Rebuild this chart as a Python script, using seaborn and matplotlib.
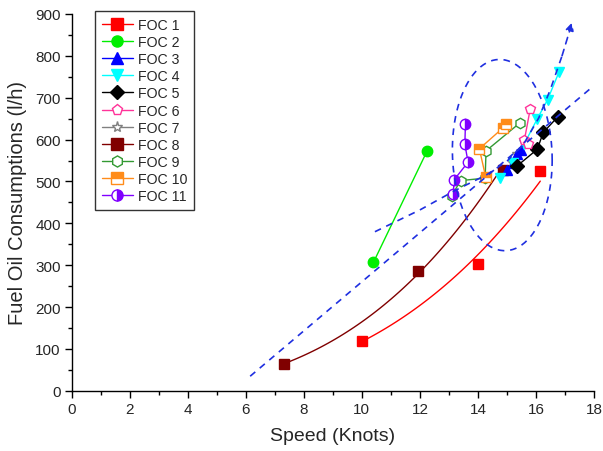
import numpy as np
import matplotlib
matplotlib.use("Agg")
import matplotlib.pyplot as plt
from matplotlib.lines import Line2D
import seaborn as sns

# measured points (speed in knots, fuel oil consumption in l/h)
foc1_x = [10.0, 14.0, 16.15]
foc1_y = [120, 304, 525]
foc2_x = [10.4, 12.25]
foc2_y = [307, 573]
foc3_x = [15.0, 15.2, 15.35, 15.5]
foc3_y = [528, 545, 565, 576]
foc4_x = [14.75, 15.2, 15.6, 16.05, 16.4, 16.8]
foc4_y = [508, 545, 590, 650, 695, 762]
foc5_x = [15.35, 16.05, 16.25, 16.75]
foc5_y = [537, 577, 617, 654]
foc6_x = [15.8, 15.6, 15.72]
foc6_y = [672, 598, 590]
foc7_x = [15.2, 15.35]
foc7_y = [545, 565]
foc8_x = [7.3, 11.95, 14.85]
foc8_y = [64, 287, 527]
foc9_x = [13.1, 13.4, 14.25, 14.28, 15.45]
foc9_y = [466, 502, 508, 573, 640]
foc10_x = [14.27, 14.05, 14.85, 14.97]
foc10_y = [510, 578, 627, 637]
foc11_x = [13.57, 13.55, 13.66, 13.18, 13.15]
foc11_y = [637, 589, 546, 504, 470]

# hand drawn trend marks
trend_line_x = [6.15, 17.95]
trend_line_y = [35, 726]
trend_curve_x = [10.45, 12.0, 13.2, 14.3, 15.0, 15.6, 16.1, 16.5, 16.9, 17.25]
trend_curve_y = [380, 432, 478, 516, 548, 592, 652, 720, 800, 880]
ring_center = (14.84, 563)

sns.set_style("ticks")
plt.rcParams['font.family'] = ['Liberation Sans', 'DejaVu Sans']

fig = plt.figure(figsize=(6.03, 4.52), dpi=100)
ax = fig.add_axes([0.119, 0.133, 0.866, 0.834])

def power_fit(xs, ys):
    b, a = np.polyfit(np.log(xs), np.log(ys), 1)
    xx = np.linspace(min(xs), max(xs), 60)
    return xx, np.exp(a) * xx ** b

series = [
    ("FOC 1", foc1_x, foc1_y, "#FF0000", "s", "full", "fit"),
    ("FOC 2", foc2_x, foc2_y, "#00EE00", "o", "full", "line"),
    ("FOC 3", foc3_x, foc3_y, "#0000FF", "^", "full", "line"),
    ("FOC 4", foc4_x, foc4_y, "#00FFFF", "v", "full", "line"),
    ("FOC 5", foc5_x, foc5_y, "#000000", "D", "full", "line"),
    ("FOC 6", foc6_x, foc6_y, "#FF3399", "p", "none", "line"),
    ("FOC 7", foc7_x, foc7_y, "#808080", "*", "none", "line"),
    ("FOC 8", foc8_x, foc8_y, "#800000", "s", "full", "fit"),
    ("FOC 9", foc9_x, foc9_y, "#339933", "h", "none", "line"),
    ("FOC 10", foc10_x, foc10_y, "#FF8C1A", "s", "top", "line"),
    ("FOC 11", foc11_x, foc11_y, "#8000FF", "o", "right", "line"),
]
order = [6, 0, 1, 7, 2, 3, 4, 5, 8, 9, 10]

handles = []
for name, xs, ys, col, mk, fs, kind in series:
    fc = col if fs != "none" else "white"
    handles.append(Line2D([], [], color=col, lw=1, marker=mk, ms=8 if mk != "D" else 7,
                          fillstyle=fs if fs != "none" else "full",
                          markerfacecolor=fc, markerfacecoloralt="white", markeredgecolor=col,
                          markeredgewidth=1, label=name))

for i in order:
    name, xs, ys, col, mk, fs, kind = series[i]
    if kind == "fit":
        xx, yy = power_fit(xs, ys)
        ax.plot(xx, yy, color=col, lw=1, zorder=2)
    else:
        sns.lineplot(x=xs, y=ys, sort=False, estimator=None, color=col, lw=1, ax=ax, zorder=2)
    fc = col if fs != "none" else "white"
    ax.plot(xs, ys, ls="none", marker=mk, ms=7.5 if mk != "D" else 7,
            fillstyle=fs if fs != "none" else "full", markerfacecolor=fc,
            markerfacecoloralt="white", markeredgecolor=col, markeredgewidth=1, zorder=3)

dash = (4, 3.5)
ax.plot(trend_line_x, trend_line_y, color="#1f2fe0", lw=1.2, dashes=dash, zorder=4)
ax.plot(trend_curve_x[:-1], trend_curve_y[:-1], color="#1f2fe0", lw=1.2, dashes=dash, zorder=4)
ax.annotate("", xy=(trend_curve_x[-1], trend_curve_y[-1]),
            xytext=(trend_curve_x[-2], trend_curve_y[-2]),
            arrowprops=dict(arrowstyle="-|>", color="#1f2fe0", lw=1.2, ls=(0, dash),
                            mutation_scale=12, shrinkA=0, shrinkB=0), zorder=4)
t = np.linspace(0, 2 * np.pi, 200)
ax.plot(ring_center[0] + 1.72 * np.cos(t), ring_center[1] + 228 * np.sin(t) - 12 * np.cos(t),
        color="#1f2fe0", lw=1.2, dashes=dash, zorder=4)

ax.set_xlim(0, 18)
ax.set_ylim(0, 900)
ax.set_xticks(np.arange(0, 19, 2))
ax.set_xticks(np.arange(0, 19, 1), minor=True)
ax.set_yticks(np.arange(0, 901, 100))
ax.set_yticks(np.arange(0, 901, 50), minor=True)
ax.tick_params(which="major", direction="out", length=5, width=1, labelsize=11, color="black", pad=3)
ax.tick_params(which="minor", direction="out", length=3, width=1, color="black")
for s in ["top", "right"]:
    ax.spines[s].set_visible(False)
for s in ["left", "bottom"]:
    ax.spines[s].set_color("black")
    ax.spines[s].set_linewidth(1)
ax.set_xlabel("Speed (Knots)", fontsize=14, labelpad=8)
ax.set_ylabel("Fuel Oil Consumptions (l/h)", fontsize=14.5, labelpad=6)

leg = ax.legend(handles=handles, loc="upper left", bbox_to_anchor=(0.044, 1.008), fontsize=10.2,
                handlelength=2.2, labelspacing=0.22, borderpad=0.5, handletextpad=0.35,
                borderaxespad=0, frameon=True, fancybox=False, edgecolor="black")
leg.get_frame().set_linewidth(1)

fig.savefig("out.png", dpi=100)
